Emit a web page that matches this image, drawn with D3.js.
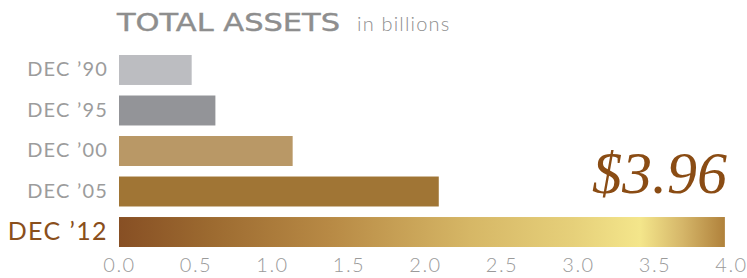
<!DOCTYPE html>
<html>
<head>
<meta charset="utf-8">
<script src="https://cdn.jsdelivr.net/npm/d3@7"></script>
<style>
  body { margin: 0; background: #fff; }
</style>
</head>
<body>
<svg id="vis" width="747" height="278"></svg>
<script>
// chart data
var periods = ["DEC \u201990", "DEC \u201995", "DEC \u201900", "DEC \u201905", "DEC \u201912"];
var assets = [0.475, 0.63, 1.135, 2.09, 3.96];
var barColors = ["#bcbdc1", "#939498", "#b99866", "#a07535", "url(#goldGrad)"];
var tickValues = [0, 0.5, 1, 1.5, 2, 2.5, 3, 3.5, 4];
var titleMain = "TOTAL ASSETS";
var titleSub = "in billions";
var callout = "$3.96";

const SANS = "Lato, 'DejaVu Sans', sans-serif";

var _vis = d3.select("#vis");

var x = d3.scaleLinear().domain([0, 4]).range([119, 731]);
var y = d3.scaleBand().domain(periods).range([55, 247]).paddingInner(0.26).paddingOuter(0);

// gradient for latest bar
var grad = _vis.append("defs").append("linearGradient")
    .attr("id", "goldGrad")
    .attr("x1", "0%").attr("x2", "100%").attr("y1", "0%").attr("y2", "0%");
[[0, "#874f24"], [0.15, "#9c6a30"], [0.35, "#b88a45"], [0.58, "#d6b766"],
 [0.75, "#e6d07a"], [0.86, "#f4e68b"], [0.93, "#d5b669"], [1, "#b0813b"]]
    .forEach(function (s) {
        grad.append("stop").attr("offset", s[0]).attr("stop-color", s[1]);
    });

// title
_vis.append("text")
    .attr("x", 117).attr("y", 31)
    .attr("font-family", "'DejaVu Sans', sans-serif")
    .attr("font-size", 25).attr("fill", "#8e8e8e")
    .attr("stroke", "#8e8e8e").attr("stroke-width", 0.4)
    .attr("textLength", 223).attr("lengthAdjust", "spacingAndGlyphs")
    .text(titleMain);
_vis.append("text")
    .attr("x", 357).attr("y", 31)
    .attr("font-family", SANS)
    .attr("font-size", 20).attr("font-weight", 300).attr("fill", "#8e8e8e")
    .attr("letter-spacing", 1.2)
    .text(titleSub);

// bars
_vis.selectAll("rect.bar")
    .data(assets)
    .enter()
    .append("rect")
    .attr("class", "bar")
    .attr("x", x(0))
    .attr("y", (d, i) => y(periods[i]))
    .attr("width", d => x(d) - x(0))
    .attr("height", y.bandwidth())
    .attr("fill", (d, i) => barColors[i]);

// category labels
var yAxis = _vis.append("g")
    .attr("transform", "translate(" + x(0) + ",0)")
    .call(d3.axisLeft(y).tickSize(0).tickPadding(11));
yAxis.select(".domain").remove();
yAxis.selectAll("text")
    .attr("font-size", 20)
    .attr("fill", "#9c9c9c")
    .attr("font-family", SANS)
    .attr("letter-spacing", 1.2);
yAxis.selectAll("text").filter(d => d === periods[4])
    .attr("font-size", 25)
    .attr("fill", "#8a4f1c")
    .attr("letter-spacing", 1.4);

// value axis
var xAxis = _vis.append("g")
    .attr("transform", "translate(0," + y.range()[1] + ")")
    .call(d3.axisBottom(x).tickValues(tickValues).tickFormat(d3.format(".1f")).tickSize(0).tickPadding(11));
xAxis.select(".domain").remove();
xAxis.selectAll("text")
    .attr("font-size", 20)
    .attr("font-weight", 300)
    .attr("fill", "#9a9a9a")
    .attr("font-family", SANS)
    .attr("letter-spacing", 1.5);

// callout value
_vis.append("text")
    .attr("x", 727)
    .attr("y", 193)
    .attr("text-anchor", "end")
    .attr("font-family", "'Liberation Serif', 'DejaVu Serif', serif")
    .attr("font-style", "italic")
    .attr("font-size", 60)
    .attr("fill", "#8a4c14")
    .text(callout);
</script>
</body>
</html>
